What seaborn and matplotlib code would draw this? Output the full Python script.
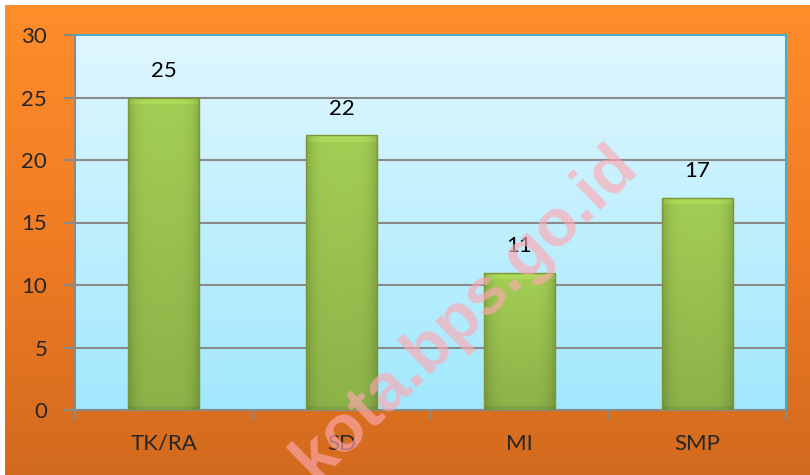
import matplotlib
matplotlib.use('Agg')
import numpy as np
import pandas as pd
import seaborn as sns
import matplotlib.pyplot as plt
from matplotlib.colors import LinearSegmentedColormap

# data
categories = ['TK/RA', 'SD', 'MI', 'SMP']
values = [25, 22, 11, 17]
y_ticks = [0, 5, 10, 15, 20, 25, 30]
watermark = 'kota.bps.go.id'

sns.set_style('white')
plt.rcParams['font.family'] = ['Lato', 'DejaVu Sans']

fig = plt.figure(figsize=(8.1, 4.75), dpi=100, facecolor='white')

# orange background (gradient)
bg = fig.add_axes([5 / 810, 0, 1 - 5 / 810, 1 - 5 / 475])
grad = np.linspace(0, 1, 256).reshape(-1, 1)
orange = LinearSegmentedColormap.from_list('orange', ['#FF8D2A', '#F07C24', '#D26A1E'])
bg.imshow(grad, cmap=orange, aspect='auto', extent=[0, 1, 0, 1])
bg.axis('off')

ax = fig.add_axes([75 / 810, 1 - 410 / 475, 711 / 810, 375 / 475])

# plot area gradient
blue = LinearSegmentedColormap.from_list('blue', ['#E0F7FF', '#A2E8FD'])
ax.imshow(grad, cmap=blue, aspect='auto', extent=[0, 1, 0, 1],
          transform=ax.transAxes, zorder=0)

df = pd.DataFrame({'jenjang': categories, 'jumlah': values})
sns.barplot(data=df, x='jenjang', y='jumlah', color='#9BC24A', saturation=1,
            width=0.4, edgecolor='#7A9734', linewidth=1, ax=ax, zorder=3)

# gradient fill for each bar (lighter top bevel, darker sides)
px_per_unit = 375 / 30
nx = 72
xs = np.linspace(-1, 1, nx)
horiz = 1 - 0.18 * np.abs(xs) ** 5
base = np.array([0.64, 0.81, 0.33])
for p in ax.patches:
    x0, y0, w, h = p.get_x(), p.get_y(), p.get_width(), p.get_height()
    ny = max(int(h * px_per_unit), 2)
    ys = np.linspace(1, 0, ny)
    vert = 0.86 + 0.14 * ys
    vert[:7] *= 1.06
    vert[-4:] *= 0.92
    img = base[None, None, :] * horiz[None, :, None] * vert[:, None, None]
    img = np.clip(img, 0, 1)
    im = ax.imshow(img, extent=[x0, x0 + w, y0, y0 + h], aspect='auto', zorder=3.5)
    im.set_clip_path(p)
    p.set_facecolor('none')
    p.set_zorder(4)

# labels above bars
for i, v in enumerate(values):
    ax.annotate(str(v), (i, v), xytext=(0, 19), textcoords='offset points',
                ha='center', va='center', fontsize=16, color='black')

ax.set_xlim(-0.5, 3.5)
ax.set_ylim(0, 30)
ax.set_aspect('auto')
ax.set_yticks(y_ticks)
ax.set_xticks(range(len(categories)))
ax.set_xticklabels(categories)
ax.set_xticks([-0.5, 0.5, 1.5, 2.5, 3.5], minor=True)
ax.set_xlabel('')
ax.set_ylabel('')

ax.yaxis.grid(True, color='#8A8A8A', lw=1.5)
ax.set_axisbelow(True)

ax.tick_params(axis='y', left=True, length=8, width=1.5, color='#8A8A8A',
               labelsize=16, pad=12)
ax.tick_params(axis='x', which='major', length=0, labelsize=16, pad=17)
ax.tick_params(axis='x', which='minor', bottom=True, length=7, width=1.5,
               color='#8A8A8A')

for s in ['left', 'bottom']:
    ax.spines[s].set_color('#8A8A8A')
    ax.spines[s].set_linewidth(1.5)
for s in ['top', 'right']:
    ax.spines[s].set_color('#4BACC6')
    ax.spines[s].set_linewidth(1.5)

# watermark
fig.text(465 / 810, 1 - 313 / 475, watermark, rotation=44, rotation_mode='anchor',
         ha='center', va='center', fontsize=48, fontweight='bold',
         family='Liberation Sans', color='#FFA8B2', alpha=0.65, zorder=10)

fig.savefig('out.png', dpi=100)
